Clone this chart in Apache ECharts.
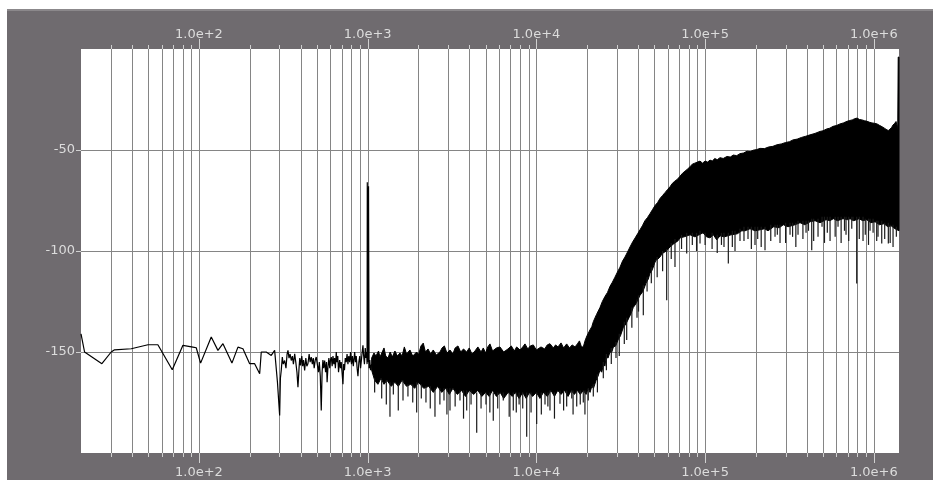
<!DOCTYPE html>
<html><head><meta charset="utf-8">
<script src="https://cdn.jsdelivr.net/npm/echarts@6/dist/echarts.min.js"></script>
<style>
html,body{margin:0;padding:0;background:#fff;width:933px;height:480px;overflow:hidden;}
#chart{position:absolute;left:7px;top:9px;width:926px;height:471px;}
</style></head><body><div id="chart"></div>
<script>
// ---- axis ranges / tick labels ----
const xMin = 20, xMax = 1410000;
const yMin = -200, yMax = 0;
const xLabelValues = [100, 1000, 10000, 100000, 1000000];
const xLabelTexts = ['1.0e+2', '1.0e+3', '1.0e+4', '1.0e+5', '1.0e+6'];
const yLabelValues = [-50, -100, -150];
const gridFreqs = [30,40,50,60,70,80,90,
  100,200,300,400,500,600,700,800,900,
  1000,2000,3000,4000,5000,6000,7000,8000,9000,
  10000,20000,30000,40000,50000,60000,70000,80000,90000,
  100000,200000,300000,400000,500000,600000,700000,800000,900000,
  1000000];

// ---- low-frequency trace (single line) ----
const lowFreq = [20,21,26.6,30.2,31.6,39.7,49.9,57.1,69.5,80.4,92.1,96.4,102.3,118.3,129.6,138.8,156.9,170.3,182.3,199.8,213.9,229.1,234.1,250.6,268.3,281,292,
  300.9,304,307.5,312,316,322.1,328,333,337.1,342,347,352.6,358,363,369.4,375,381,386.3,392,396,400.6,407,412,417,423.2,430,436,442.6,450,456,463.1,470,476,482,489,495.7,503,510.9,517,524,530.9,537,543,549,556.1,563,570,575,581.7,589,596,602,608.5,616,623,630,637,644,651.5,658,665,672,682.3,690,697,705,713.8,721,729,737,746.6,755,764,773,782.1,792,802,812,822,837.5,847,856,866,876,887,898,908,918,928,937.8,947,957,967.8,978,986,992,995,1000,1006,1012,1020,1030,1040,1056];
const lowLevel = [-141,-150,-155.8,-150,-148.9,-148.4,-146.4,-146.4,-158.8,-146.7,-147.6,-147.9,-155.5,-142.6,-149.2,-145.9,-155.5,-147.6,-148.4,-155.8,-155.8,-160.8,-150,-150,-151.7,-149.2,-165,
  -181.4,-163,-159.1,-152.5,-156,-154.2,-158,-151,-149.2,-153,-151,-154.2,-152,-156,-150.9,-155,-160,-167.4,-158,-153,-156.6,-152,-157,-154,-159.1,-153,-157,-155.8,-151,-155,-152.5,-156,-153,-158,-154,-152.5,-156,-160,-155,-162,-179,-160,-154,-158,-154.2,-160,-155,-165,-157.5,-153,-158,-154,-152.5,-157,-152,-156,-153,-158,-150,-155,-152,-160,-154,-158,-155,-160,-166,-156,-159,-153,-155,-151,-156,-152,-155,-150,-156,-152,-157,-150,-155,-152,-158,-162,-155,-152,-158,-154,-150,-146.7,-152,-156,-148,-153,-150,-156,-66,-152,-155,-68,-158,-154,-159,-156];

// ---- dense noise band: upper edge ----
const bandUpperFreq = [1056,1090,1120,1160,1183,1220,1250,1280,1320,1360,1400,1451,1500,1554,1600,1650,1700,1781,1850,1952,2000,2070,2136,2200,2280,2360,2448,2550,2683,2760,2850,2950,3076,3200,3300,3430,3560,3700,3863,4000,4150,4325,4500,4700,4845,5000,5150,5309,5500,5800,6085,6400,6786,7100,7400,7641,8000,8300,8561,8900,9200,9585,10000,10650,11200,11600,12040,12600,13000,13430,14000,14500,15120,15700,16300,16940,17500,18000,18500,18970,19500,19950,
  20790,21300,21750,22700,23820,24600,25500,26400,27310,28200,29200,30200,31310,32400,33500,34700,35880,37200,38500,39800,41130,42500,44000,45500,47150,48800,50500,52300,54040,56000,58000,60000,61940,64000,66000,68500,71010,73500,76000,78500,81390,84000,87000,90000,93290,96500,100000,103500,106900,110500,114000,118000,122600,128000,134900,141000,147000,154000,161000,169000,177200,185000,193000,202000,211600,225000,238000,252000,266900,283000,300000,316000,331900,352000,372000,395000,418800,448000,480000,500000,525000,548000,573300,600000,630000,660000,693900,720000,745000,770000,795600,822000,850000,880000,912000,945000,975000,1010000,1045000,1080000,1120000,1160000,1198000,1225000,1250000,1275000,1300000,1330000,1354000,1375000,1385000,1395000,1410000];
const bandUpperLevel = [-153,-150.5,-152,-149.5,-152.5,-150,-148,-152,-153,-150,-152.5,-149.5,-152,-150.5,-152,-147.5,-151,-149,-152,-150,-151.5,-147,-145.6,-150,-148.5,-151,-149,-151.5,-150,-148,-147,-150.5,-149,-151,-148,-147,-150,-148.5,-150,-148,-151,-149.5,-147.5,-150,-148,-150.5,-147.5,-146,-149.5,-148,-147.5,-150,-148.5,-147,-149.5,-147.5,-149,-147.5,-146,-148.5,-147,-146.5,-149,-147.5,-148.5,-146.5,-145.9,-148,-146.5,-147.5,-145.5,-148,-146,-148,-146.5,-147.5,-146,-144.5,-147.5,-147.5,-144,-142,
  -139,-137.5,-135,-131.5,-128,-125,-122.5,-120.5,-117.5,-115.5,-113,-110.5,-108,-105,-103,-100.5,-98,-95.5,-93.5,-91.5,-89.5,-87.5,-85,-83.5,-81.5,-79.5,-77.5,-76,-74,-72.5,-71,-69.5,-68.2,-66.5,-65.5,-64.5,-63,-61.5,-60.5,-59.5,-58.3,-57,-56.5,-56,-55.5,-56.5,-55.5,-56,-55,-55.5,-54.2,-54.8,-53.8,-54.2,-53.2,-53.5,-52.5,-52.8,-51.8,-51.5,-50.6,-50.8,-50.1,-49.8,-49.2,-49.3,-48.5,-48.2,-47.4,-47,-46.3,-45.9,-45,-44.6,-43.8,-43.2,-42.5,-41.8,-40.8,-40.5,-39.6,-39.2,-38.3,-37.9,-37.1,-36.6,-35.8,-35.4,-35.1,-34.5,-34.2,-34.9,-35.1,-35.5,-35.8,-36.3,-36.6,-36.8,-37.1,-37.8,-38.5,-39.3,-40.1,-40.3,-39.6,-38.8,-37.6,-36.8,-35.9,-38,-42,-4,-4];

// ---- dense noise band: lower edge ----
const bandLowerFreq = [1056,1100,1150,1200,1250,1300,1380,1450,1520,1600,1700,1800,1900,2000,2150,2300,2450,2600,2750,2900,3050,3200,3400,3600,3800,4000,4250,4500,4750,5000,5250,5500,5800,6100,6400,6800,7200,7500,7900,8300,8700,9100,9500,10000,10500,11000,11600,12200,12800,13400,14000,14700,15400,16100,16800,17500,18200,19000,19700,20300,20800,21300,21800,22600,23200,23800,24400,25000,25500,25900,26600,27300,28000,28600,29500,30500,31500,32700,34000,35400,36400,37500,39000,41100,42800,44600,46000,47150,48200,49300,50200,51200,52500,54000,55000,56300,59000,61900,65000,69000,71000,75000,81400,87100,92000,97200,102000,106900,112000,117200,122600,130000,142400,155000,165000,172400,184600,198000,211600,225000,236000,255000,275000,290800,310000,341200,365300,390000,420000,448200,480000,520800,550000,575300,610000,656800,700000,722600,760000,817000,860000,907700,960000,1017000,1080000,1150000,1210000,1265000,1336000,1410000];
const bandLowerLevel = [-159,-164,-166,-163,-166,-164,-167,-165,-167,-164,-167,-166,-168,-165,-168,-167,-170,-167,-170,-168,-171,-168,-171,-169,-172,-169,-171,-169,-172,-170,-172,-169,-172,-170,-173,-170,-172,-170,-173,-170,-173,-170,-172,-170,-173,-170,-172,-169,-172,-169,-171,-169,-172,-169,-171,-169,-171,-169,-171,-168,-170,-167,-168,-164,-162,-159,-160,-156,-157,-152.5,-153,-150,-150,-147.5,-147,-144,-142,-138,-136,-133,-131,-128,-126,-122,-120,-116,-114,-111,-110,-108,-106,-104.5,-104,-103,-102,-101,-100,-98,-96.5,-95,-93.5,-93,-92,-93,-92,-91,-93,-93.5,-92,-94.5,-92.5,-93,-92,-91.5,-90,-90,-89,-90,-89.5,-89,-90,-88,-88.5,-87,-88,-87,-86,-87,-85.5,-85,-86,-84.5,-85,-84,-85,-84,-84.5,-84,-85,-84,-85,-84.5,-86,-85.5,-87,-86.5,-88,-87.5,-89,-90];

// ---- isolated dips below the band ----
const spikeFreq = [1100,1211,1290,1356,1420,1519,1620,1733,1850,1952,2080,2216,2350,2506,2680,2834,2950,3076,3300,3525,3700,3863,4100,4429,4700,5026,5300,5553,5900,6366,6900,7298,7600,7900,8300,8761,9300,10040,10700,11250,11700,12040,12800,13800,14500,15120,16200,16500,17340,18200,18970,19400,20300,21750,
  23000,24930,26000,27800,29640,31000,33200,34300,36800,39480,40300,43030,45300,48000,52000,56000,59200,63000,66300,72500,77790,84000,89000,93290,
  100000,110000,118000,125000,129400,137300,145000,150400,161000,170000,179600,188000,197600,205000,215000,226500,245000,259700,268000,278000,300000,318700,330000,345000,355400,380000,396500,410000,428500,440000,467000,493200,510000,530000,550200,590000,613500,640000,670000,684300,710000,740000,752800,791600,820000,863000,890000,930000,949600,990000,1040000,1059000,1114000,1160000,1219000,1250000,1300000,1360000];
const spikeFrom = [-163,-164,-164,-165,-165,-166,-164,-166,-166,-165,-166,-167,-167,-168,-168,-168,-168,-168,-169,-169,-169,-169,-169,-170,-170,-170,-170,-170,-170,-170,-170,-170,-170,-170,-170,-170,-170,-170,-170,-170,-170,-169,-170,-169,-169,-169,-169,-169,-169,-169,-169,-169,-168,-166,
  -161,-155,-151,-148,-145,-141,-135,-133,-128,-124,-122,-117,-113,-108,-103,-100,-99,-96,-94,-92,-91,-91,-91,-90,
  -91,-91,-92,-91,-91,-91,-90,-90,-89,-88,-88,-88,-88,-88,-88,-88,-87,-87,-87,-87,-86,-86,-86,-86,-85,-85,-85,-85,-84,-84,-84,-83,-83,-83,-83,-83,-83,-83,-83,-83,-83,-83,-83,-83,-83,-83,-84,-84,-84,-84,-85,-85,-85,-86,-86,-87,-87,-88];
const spikeTo = [-170,-173,-176,-182,-171,-179,-174,-172,-175,-180,-173,-175,-178,-182,-176,-174,-181,-179,-177,-174,-183,-179,-176,-190,-178,-176,-180,-184,-178,-174,-182,-179,-180,-176,-178,-192,-180,-185.6,-181,-176,-177,-179,-183,-175.6,-179,-177,-173,-181,-177,-176,-175,-181,-174,-172,
  -170,-163,-159,-156,-153,-152,-146,-144,-138,-133,-130,-131.8,-120,-116,-113,-110,-124.4,-104,-107.9,-99,-101.2,-97,-100,-96.3,
  -97,-99,-101,-97,-98,-106.2,-98,-100,-95,-95,-94,-99,-97,-94,-98,-99.6,-95,-93,-92,-96,-96,-92,-93,-98,-92,-94,-91,-90,-99.6,-95,-93,-88,-96,-91,-95,-93,-88,-96,-90,-92,-95,-89,-85,-116.1,-94,-95,-92,-97,-90,-91,-95,-93,-96.3,-94,-96.3,-96,-98,-93];

const labelColor = '#dcdcdc';
const font = 'DejaVu Sans';

const chart = echarts.init(document.getElementById('chart'), null, {renderer: 'canvas'});

function xLabel(v) {
  const i = xLabelValues.findIndex(t => Math.abs(t - v) / t < 1e-6);
  return i >= 0 ? xLabelTexts[i] : '';
}
function isMajor(f) {
  return xLabelValues.some(t => Math.abs(t - f) / t < 1e-6);
}

const xAxisBase = {
  type: 'log', logBase: 10, min: xMin, max: xMax,
  axisLine: {show: false},
  axisTick: {show: false},
  splitLine: {show: false},
  minorTick: {show: false},
  axisLabel: {
    customValues: xLabelValues,
    formatter: xLabel,
    color: labelColor, fontFamily: font, fontSize: 13
  }
};

const option = {
  animation: false,
  backgroundColor: '#6f6b6f',
  graphic: [{type: 'rect', left: 0, top: 0, shape: {width: 926, height: 2}, style: {fill: '#8b888b'}, silent: true}],
  grid: {left: 74, right: 34, top: 40, bottom: 27, show: true, backgroundColor: '#ffffff', borderWidth: 0},
  xAxis: [
    Object.assign({}, xAxisBase, {position: 'bottom', axisLabel: Object.assign({}, xAxisBase.axisLabel, {margin: 13})}),
    Object.assign({}, xAxisBase, {position: 'top', axisLabel: Object.assign({}, xAxisBase.axisLabel, {margin: 8})})
  ],
  yAxis: {
    type: 'value', min: yMin, max: yMax, interval: 50,
    axisLine: {show: false},
    axisTick: {show: true, length: 5, customValues: yLabelValues, lineStyle: {color: '#d0d0d0'}},
    axisLabel: {
      customValues: yLabelValues,
      formatter: v => yLabelValues.includes(v) ? String(v) : '',
      color: labelColor, fontFamily: font, fontSize: 13, margin: 6
    },
    splitLine: {show: true, lineStyle: {color: '#858585', width: 1}}
  },
  series: [
    {
      // vertical log grid lines and their ticks
      type: 'custom', xAxisIndex: 0, yAxisIndex: 0, z: 1, clip: false, silent: true,
      data: gridFreqs.map(f => [f, yMin]),
      encode: {x: 0, y: 1},
      renderItem: function (params, api) {
        const f = api.value(0);
        const top = api.coord([f, yMax]);
        const bot = api.coord([f, yMin]);
        const x = Math.round(top[0]) + 0.5;
        const len = isMajor(f) ? 10 : 4;
        return {type: 'group', children: [
          {type: 'line', shape: {x1: x, y1: top[1], x2: x, y2: bot[1]}, style: {stroke: '#858585', lineWidth: 1}},
          {type: 'line', shape: {x1: x, y1: top[1] - len, x2: x, y2: top[1]}, style: {stroke: '#d0d0d0', lineWidth: 1}},
          {type: 'line', shape: {x1: x, y1: bot[1], x2: x, y2: bot[1] + len}, style: {stroke: '#d0d0d0', lineWidth: 1}}
        ]};
      }
    },
    {
      // dense noise band as filled polygon between upper and lower edges
      type: 'custom', xAxisIndex: 0, yAxisIndex: 0, z: 3, silent: true,
      data: [[bandUpperFreq[0], bandUpperLevel[0]]],
      encode: {x: 0, y: 1},
      renderItem: function (params, api) {
        const pts = [];
        for (let i = 0; i < bandUpperFreq.length; i++) pts.push(api.coord([bandUpperFreq[i], bandUpperLevel[i]]));
        for (let i = bandLowerFreq.length - 1; i >= 0; i--) pts.push(api.coord([bandLowerFreq[i], bandLowerLevel[i]]));
        return {type: 'polygon', shape: {points: pts}, style: {fill: '#000', stroke: '#000', lineWidth: 1}};
      }
    },
    {
      // isolated dips
      type: 'custom', xAxisIndex: 0, yAxisIndex: 0, z: 3, silent: true,
      data: spikeFreq.map((f, i) => [f, spikeFrom[i], spikeTo[i]]),
      encode: {x: 0, y: [1, 2]},
      renderItem: function (params, api) {
        const a = api.coord([api.value(0), api.value(1)]);
        const b = api.coord([api.value(0), api.value(2)]);
        return {type: 'line', shape: {x1: a[0], y1: a[1], x2: b[0], y2: b[1]}, style: {stroke: '#1a1a1a', lineWidth: 1.2}};
      }
    },
    {
      type: 'line', xAxisIndex: 0, yAxisIndex: 0, z: 4, silent: true,
      showSymbol: false, symbol: 'none',
      data: lowFreq.map((f, i) => [f, lowLevel[i]]),
      lineStyle: {color: '#000', width: 1.2}
    }
  ]
};
chart.setOption(option);
</script>
</body></html>
